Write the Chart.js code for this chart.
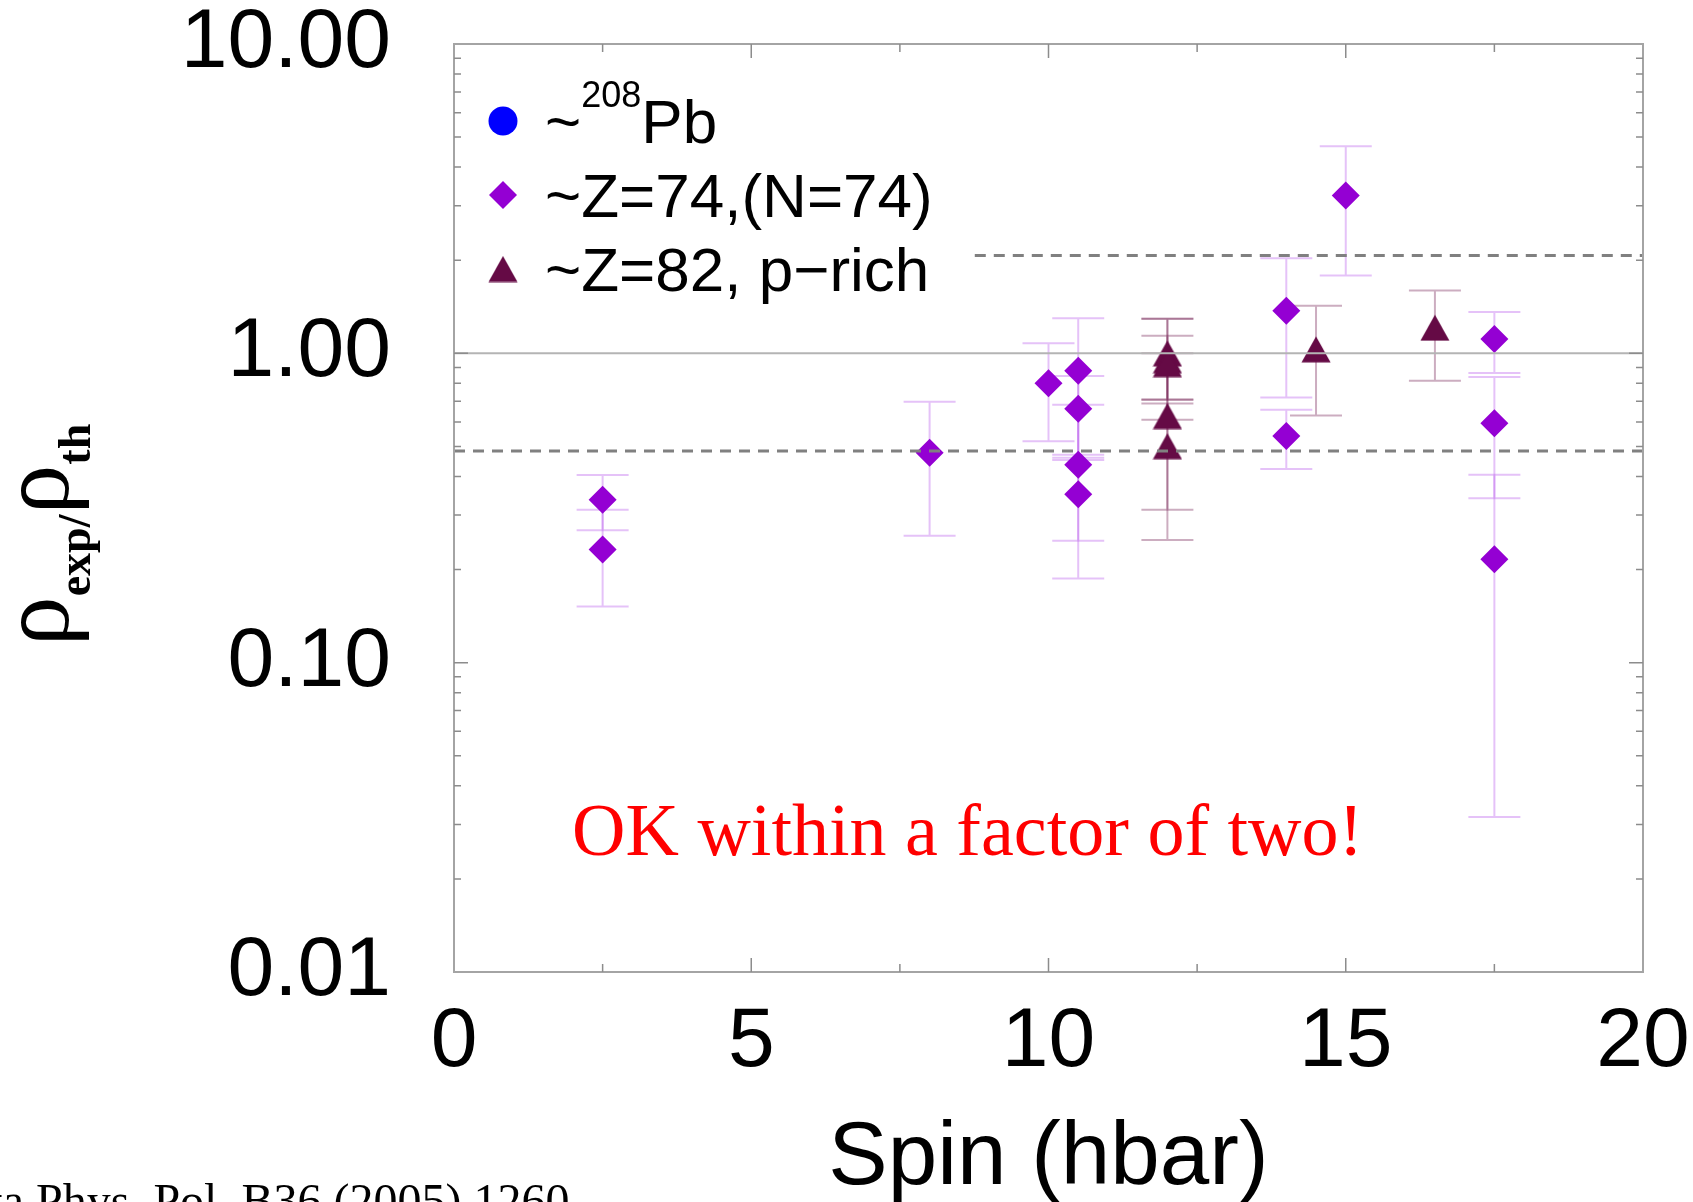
<!DOCTYPE html>
<html>
<head>
<meta charset="utf-8">
<title>rho_exp / rho_th vs spin</title>
<script src="https://cdn.jsdelivr.net/npm/chart.js@4.4.1/dist/chart.umd.min.js"></script>
<style>
  html, body { margin: 0; padding: 0; background: #fff; overflow: hidden; }
  canvas { display: block; }
</style>
</head>
<body>
<canvas id="chart" width="1693" height="1202"></canvas>
<script>
// ---- data ----

// ~208Pb (only in the legend, no points shown)
const pbSpin = [];
const pbRatio = [];

// ~Z=74,(N=74)  (diamonds)
const z74Spin  = [2.5, 2.5, 8, 10, 10.5, 10.5, 10.5, 10.5, 14, 14, 15, 17.5, 17.5, 17.5];
const z74Ratio = [0.336, 0.232, 0.477, 0.801, 0.879, 0.662, 0.436, 0.350, 1.373, 0.540, 3.236, 1.113, 0.594, 0.216];
const z74Low   = [0.268, 0.152, 0.257, 0.520, 0.460, 0.470, 0.187, 0.248, 0.720, 0.423, 1.786, 0.864, 0.340, 0.0317];
const z74High  = [0.404, 0.312, 0.698, 1.077, 1.298, 0.845, 0.682, 0.452, 2.028, 0.657, 4.670, 1.359, 0.838, 0.405];

// ~Z=82, p-rich  (triangles)
const z82Spin  = [12, 12, 12, 12, 12, 14.5, 16.5];
const z82Ratio = [1.0, 0.95, 0.923, 0.627, 0.501, 1.03, 1.21];
const z82Low   = [0.710, 0.610, 0.706, 0.249, 0.312, 0.629, 0.816];
const z82High  = [1.294, 1.294, 1.140, 1.000, 0.689, 1.424, 1.595];

// reference lines
const unityX = [0, 20];
const unityY = [1, 1];
const lowBandX = [0, 20];
const lowBandY = [0.483, 0.483];
const highBandX = [8.76, 20];
const highBandY = [2.07, 2.07];

// axes
const xTickStep = 5;
const yTickValues = [0.01, 0.1, 1, 10];

// ---- helpers ----
const pts = (xs, ys) => xs.map((v, i) => ({ x: v, y: ys[i] }));
const SANS = '"Liberation Sans", Arial, Helvetica, sans-serif';
const SERIF = '"Liberation Serif", "Times New Roman", serif';
const CAP = 26;

function noPadding(s) {
    s.paddingTop = 0;
    s.paddingBottom = 0;
    s.paddingLeft = 0;
    s.paddingRight = 0;
}

function triangleImage(color) {
    const c = document.createElement("canvas");
    c.width = 30; c.height = 27;
    const g = c.getContext("2d");
    g.fillStyle = color;
    g.beginPath();
    g.moveTo(15, 0.5);
    g.lineTo(29.5, 26.5);
    g.lineTo(0.5, 26.5);
    g.closePath();
    g.fill();
    return c;
}
const triImg = triangleImage("#650a45");

// error bars, drawn under the markers
const errorBars = {
    id: "errorBars",
    beforeDatasetsDraw(chart) {
        const { ctx, scales: { x, y } } = chart;
        chart.data.datasets.forEach(ds => {
            if (!ds.errLow) return;
            ds.data.forEach((p, j) => {
                const px = x.getPixelForValue(p.x);
                const lo = y.getPixelForValue(ds.errLow[j]);
                const hi = y.getPixelForValue(ds.errHigh[j]);
                ctx.save();
                ctx.strokeStyle = ds.errColor;
                ctx.lineWidth = 2;
                ctx.beginPath();
                ctx.moveTo(px, lo); ctx.lineTo(px, hi);
                ctx.moveTo(px - CAP, lo); ctx.lineTo(px + CAP, lo);
                ctx.moveTo(px - CAP, hi); ctx.lineTo(px + CAP, hi);
                ctx.stroke();
                ctx.restore();
            });
        });
    }
};

// frame, inner ticks, titles, legend and notes
const decorations = {
    id: "decorations",
    afterDraw(chart) {
        const { ctx, chartArea: a, scales: { x, y } } = chart;
        ctx.save();

        // frame
        ctx.strokeStyle = "#a4a4a4";
        ctx.lineWidth = 2;
        ctx.strokeRect(a.left, a.top, a.right - a.left, a.bottom - a.top);

        // ticks pointing inward
        ctx.strokeStyle = "#8c8c8c";
        ctx.lineWidth = 1.5;
        ctx.beginPath();
        for (let v = 2.5; v < 20; v += 2.5) {
            const px = x.getPixelForValue(v);
            const len = v % 5 === 0 ? 14 : 8;
            ctx.moveTo(px, a.bottom); ctx.lineTo(px, a.bottom - len);
            ctx.moveTo(px, a.top); ctx.lineTo(px, a.top + len);
        }
        for (let e = -2; e <= 0; e++) {
            for (let m = 1; m <= 9; m++) {
                const v = m * Math.pow(10, e);
                if (e === -2 && m === 1) continue;
                const py = y.getPixelForValue(v);
                const len = m === 1 ? 14 : 7;
                ctx.moveTo(a.left, py); ctx.lineTo(a.left + len, py);
                ctx.moveTo(a.right, py); ctx.lineTo(a.right - len, py);
            }
        }
        ctx.stroke();

        ctx.fillStyle = "#000";

        // x title
        ctx.font = "89px " + SANS;
        ctx.textAlign = "center";
        ctx.textBaseline = "alphabetic";
        ctx.fillText("Spin (hbar)", (a.left + a.right) / 2, 1184);

        // y title: rho_exp/rho_th, rotated
        const parts = [
            { t: "\u03c1", font: "100px " + SERIF, dy: 0 },
            { t: "exp/", font: "bold 46px " + SERIF, dy: 22 },
            { t: "\u03c1", font: "100px " + SERIF, dy: 0 },
            { t: "th", font: "bold 46px " + SERIF, dy: 22 }
        ];
        let total = 0;
        parts.forEach(p => { ctx.font = p.font; p.w = ctx.measureText(p.t).width; total += p.w; });
        ctx.save();
        ctx.translate(68, 535 + total / 2);
        ctx.rotate(-Math.PI / 2);
        ctx.textAlign = "left";
        let off = 0;
        parts.forEach(p => { ctx.font = p.font; ctx.fillText(p.t, off, p.dy); off += p.w; });
        ctx.restore();

        // legend
        const lx = 503;
        ctx.fillStyle = "#0000ff";
        ctx.beginPath(); ctx.arc(lx, 121, 14.5, 0, Math.PI * 2); ctx.fill();
        ctx.fillStyle = "#9400d3";
        ctx.beginPath();
        ctx.moveTo(lx, 181); ctx.lineTo(lx + 14, 195); ctx.lineTo(lx, 209); ctx.lineTo(lx - 14, 195);
        ctx.closePath(); ctx.fill();
        ctx.drawImage(triImg, lx - 15, 269 - 13.5);

        ctx.fillStyle = "#000";
        ctx.textAlign = "left";
        ctx.font = "62px " + SANS;
        let tx = 545;
        ctx.fillText("~", tx, 143);
        tx += ctx.measureText("~").width;
        ctx.font = "36px " + SANS;
        ctx.fillText("208", tx, 107);
        tx += ctx.measureText("208").width;
        ctx.font = "62px " + SANS;
        ctx.fillText("Pb", tx, 143);
        ctx.fillText("~Z=74,(N=74)", 545, 217);
        ctx.fillText("~Z=82, p\u2212rich", 545, 291);

        // annotation
        ctx.fillStyle = "#ff0000";
        ctx.font = "74px " + SERIF;
        ctx.fillText("OK within a factor of two!", 572, 855);

        // citation, cut by the bottom/left edge
        ctx.fillStyle = "#000";
        ctx.font = "48px " + SERIF;
        const lead = ctx.measureText("Acta ").width;
        ctx.fillText("Acta Phys. Pol. B36 (2005) 1260", 36 - lead, 1217);

        ctx.restore();
    }
};

new Chart(document.getElementById("chart"), {
    type: "scatter",
    data: {
        datasets: [
            {
                label: "unity",
                data: pts(unityX, unityY),
                showLine: true,
                borderColor: "#b4b4b4",
                borderWidth: 2,
                pointRadius: 0
            },
            {
                label: "factor 1/2",
                data: pts(lowBandX, lowBandY),
                showLine: true,
                borderColor: "#808080",
                borderWidth: 3,
                borderDash: [11, 8],
                pointRadius: 0
            },
            {
                label: "factor 2",
                data: pts(highBandX, highBandY),
                showLine: true,
                borderColor: "#808080",
                borderWidth: 3,
                borderDash: [11, 8],
                pointRadius: 0
            },
            {
                label: "~208Pb",
                data: pts(pbSpin, pbRatio),
                pointStyle: "circle",
                pointRadius: 14.5,
                backgroundColor: "#0000ff",
                borderWidth: 0
            },
            {
                label: "~Z=74,(N=74)",
                data: pts(z74Spin, z74Ratio),
                pointStyle: "rectRot",
                pointRadius: 14,
                backgroundColor: "#9400d3",
                borderWidth: 0,
                errLow: z74Low,
                errHigh: z74High,
                errColor: "rgba(180, 80, 235, 0.35)"
            },
            {
                label: "~Z=82, p\u2212rich",
                data: pts(z82Spin, z82Ratio),
                pointStyle: triImg,
                backgroundColor: "#650a45",
                borderWidth: 0,
                errLow: z82Low,
                errHigh: z82High,
                errColor: "rgba(110, 20, 75, 0.35)"
            }
        ]
    },
    options: {
        responsive: false,
        animation: false,
        events: [],
        layout: { padding: { top: 44, right: 50, left: 0, bottom: 0 } },
        plugins: {
            legend: { display: false },
            tooltip: { enabled: false }
        },
        scales: {
            x: {
                type: "linear",
                min: 0,
                max: 20,
                afterFit: s => { s.height = 230; noPadding(s); },
                grid: { display: false, drawTicks: false },
                border: { display: false },
                ticks: {
                    stepSize: xTickStep,
                    autoSkip: false,
                    maxRotation: 0,
                    padding: 29,
                    color: "#000",
                    font: { family: SANS, size: 84, lineHeight: 1 }
                }
            },
            y: {
                type: "logarithmic",
                min: 0.01,
                max: 10,
                afterFit: s => { s.width = 454; noPadding(s); },
                afterBuildTicks: s => { s.ticks = yTickValues.map(v => ({ value: v })); },
                grid: { display: false, drawTicks: false },
                border: { display: false },
                ticks: {
                    padding: 63,
                    color: "#000",
                    font: { family: SANS, size: 84, lineHeight: 1 },
                    callback: v => Number(v).toFixed(2)
                }
            }
        }
    },
    plugins: [errorBars, decorations]
});
</script>
</body>
</html>
